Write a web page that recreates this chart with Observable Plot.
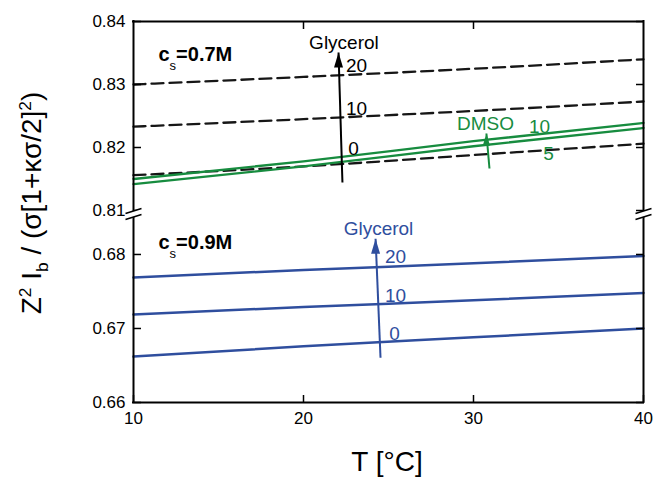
<!DOCTYPE html>
<html>
<head>
<meta charset="utf-8">
<script src="https://cdn.jsdelivr.net/npm/d3@7"></script>
<script src="https://cdn.jsdelivr.net/npm/@observablehq/plot@0.6"></script>
<style>
  body { margin: 0; background: #fff; }
  #chart { position: relative; width: 655px; height: 477px; overflow: hidden;
           font-family: "Liberation Sans", Arial, Helvetica, sans-serif; color: #000; }
  #top, #bottom { position: absolute; left: 0; }
  #top { top: 0; }
  #bottom { top: 213px; }
  .title { position: absolute; white-space: nowrap; font-size: 28px; line-height: 1; }
  .ytitle { left: 32px; top: 203px; transform: translate(-50%, -50%) rotate(-90deg); }
  .xtitle { left: 387px; top: 462px; transform: translate(-50%, -50%); }
  .title sup, .title sub { font-size: 0.62em; line-height: 0; }
</style>
</head>
<body>
<div id="chart">
  <div id="top"></div>
  <div id="bottom"></div>
  <div class="title ytitle">Z<sup>2</sup> I<sub>b</sub> / (σ[1+κσ/2]<sup>2</sup>)</div>
  <div class="title xtitle">T [°C]</div>
</div>
<script>
// Temperature grid (°C)
const temperature = [10, 20, 30, 40];

// c_s = 0.7 M, glycerol 0 / 10 / 20 (dashed)
const glyc07_0  = [0.8156, 0.8170, 0.8188, 0.8206];
const glyc07_10 = [0.8233, 0.8245, 0.8258, 0.8273];
const glyc07_20 = [0.8300, 0.8312, 0.8325, 0.8340];

// c_s = 0.7 M, DMSO 5 / 10 (solid green)
const dmso07_5  = [0.8142, 0.8170, 0.8202, 0.8231];
const dmso07_10 = [0.8150, 0.8178, 0.8210, 0.8239];

// c_s = 0.9 M, glycerol 0 / 10 / 20 (solid blue)
const glyc09_0  = [0.6662, 0.6676, 0.6688, 0.6700];
const glyc09_10 = [0.6719, 0.6729, 0.6738, 0.6748];
const glyc09_20 = [0.6769, 0.6779, 0.6788, 0.6798];

// Axis ticks
const xTicks = [10, 20, 30, 40];
const yTicksUpper = [0.81, 0.82, 0.83, 0.84];
const yTicksLower = [0.66, 0.67, 0.68];
const yDomainUpper = [0.81, 0.84];
const yDomainLower = [0.66, 0.6854];

// Annotations
const upperLabels = [
  {T: 22.38, v: 0.83667, label: "Glycerol"},
  {T: 23.12, v: 0.83302, label: "20"},
  {T: 23.12, v: 0.82619, label: "10"},
  {T: 22.94, v: 0.81984, label: "0"}
];
const dmsoLabels = [
  {T: 30.71, v: 0.82373, label: "DMSO"},
  {T: 33.88, v: 0.82333, label: "10"},
  {T: 34.41, v: 0.81897, label: "5"}
];
const lowerLabels = [
  {T: 24.41, v: 0.68347, label: "Glycerol"},
  {T: 25.41, v: 0.67969, label: "20"},
  {T: 25.41, v: 0.67442, label: "10"},
  {T: 25.35, v: 0.66922, label: "0"}
];
const saltLabels07 = [{T: 11.47, v: 0.83476, pre: "c", sub: "s", post: "=0.7M"}];
const saltLabels09 = [{T: 11.47, v: 0.68155, pre: "c", sub: "s", post: "=0.9M"}];

// Arrows (tail → tip)
const arrowGlyc07 = [{x1: 22.29, y1: 0.81444, x2: 22.06, y2: 0.83508}];
const arrowDmso07 = [{x1: 30.94, y1: 0.81667, x2: 30.76, y2: 0.82222}];
const arrowGlyc09 = [{x1: 24.53, y1: 0.66604, x2: 24.24, y2: 0.68212}];

const BLACK = "#161616", GREEN = "#178c3f", BLUE = "#2f4e9e";
const FONT = '"Liberation Sans", Arial, Helvetica, sans-serif';

const toRows = (series) => series.flatMap(([name, values]) =>
  values.map((v, i) => ({series: name, T: temperature[i], v})));

const rowsGlyc07 = toRows([["g0", glyc07_0], ["g10", glyc07_10], ["g20", glyc07_20]]);
const rowsDmso07 = toRows([["d5", dmso07_5], ["d10", dmso07_10]]);
const rowsGlyc09 = toRows([["g0", glyc09_0], ["g10", glyc09_10], ["g20", glyc09_20]]);

// Narrow filled arrowhead, tip at the anchor point
const arrowHead = {
  draw(context, size) {
    const r = Math.sqrt(size / Math.PI);
    context.moveTo(0, 0);
    context.lineTo(0.9 * r, 3 * r);
    context.lineTo(-0.9 * r, 3 * r);
    context.closePath();
  }
};
// Axis-break glyph: white gap and two slanted strokes
const breakGap = {
  draw(context) {
    context.moveTo(-8, -1); context.lineTo(8, -6); context.lineTo(8, 0); context.lineTo(-8, 5); context.closePath();
  }
};
const breakStrokes = {
  draw(context) {
    context.moveTo(-8, -1); context.lineTo(8, -6);
    context.moveTo(-8, 5); context.lineTo(8, 0);
  }
};

const style = {fontFamily: FONT, fontSize: "17px", overflow: "visible", color: "#000", background: "transparent"};
const frameRule = {stroke: "#000", strokeWidth: 2, strokeLinecap: "square"};
const fmt2 = d3.format(".2f");
const blank = () => "";

function saltText(data) {
  return Plot.text(data, {x: "T", y: "v", text: d => d.pre + d.sub + d.post,
    textAnchor: "start", fontSize: 20, fontWeight: "bold", fill: "#000"});
}
function subscriptify(svg, labels) {
  d3.select(svg).selectAll("text").each(function () {
    const m = labels.find(d => d.pre + d.sub + d.post === this.textContent);
    if (!m) return;
    const t = d3.select(this);
    t.text(null);
    t.append("tspan").text(m.pre);
    t.append("tspan").attr("font-size", 13).attr("font-weight", "normal").attr("dy", 9).text(m.sub);
    t.append("tspan").attr("dy", -9).text(m.post);
  });
}

const upper = Plot.plot({
  width: 655, height: 213,
  marginLeft: 133, marginRight: 12, marginTop: 21, marginBottom: 3,
  x: {domain: [10, 40], label: null},
  y: {domain: yDomainUpper, label: null},
  style,
  marks: [
    Plot.line(rowsGlyc07, {x: "T", y: "v", z: "series", stroke: BLACK, strokeWidth: 2.3,
      strokeDasharray: "12,6", curve: "monotone-x"}),
    Plot.line(rowsDmso07, {x: "T", y: "v", z: "series", stroke: GREEN, strokeWidth: 2.3, curve: "monotone-x"}),
    Plot.ruleX([10, 40], frameRule),
    Plot.ruleY([yDomainUpper[1]], frameRule),
    Plot.axisY(yTicksUpper, {anchor: "left", tickSize: -8, tickPadding: 16, tickFormat: fmt2, strokeWidth: 1.5, fontSize: 17}),
    Plot.axisY(yTicksUpper, {anchor: "right", tickSize: -8, tickFormat: blank, strokeWidth: 1.5}),
    Plot.axisX([20, 30], {anchor: "top", tickSize: -7, tickFormat: blank, strokeWidth: 1.5}),
    Plot.text(upperLabels, {x: "T", y: "v", text: "label", fill: "#000", fontSize: 19}),
    Plot.text(dmsoLabels, {x: "T", y: "v", text: "label", fill: GREEN, fontSize: 19}),
    saltText(saltLabels07),
    Plot.link(arrowGlyc07, {x1: "x1", y1: "y1", x2: "x2", y2: "y2", stroke: "#000", strokeWidth: 2}),
    Plot.dot(arrowGlyc07, {x: "x2", y: "y2", r: 5, symbol: arrowHead, fill: "#000", stroke: "none"}),
    Plot.link(arrowDmso07, {x1: "x1", y1: "y1", x2: "x2", y2: "y2", stroke: GREEN, strokeWidth: 2}),
    Plot.dot(arrowDmso07, {x: "x2", y: "y2", r: 4, symbol: arrowHead, fill: GREEN, stroke: "none"})
  ]
});
subscriptify(upper, saltLabels07);
document.getElementById("top").append(upper);

const lower = Plot.plot({
  width: 655, height: 264,
  marginLeft: 133, marginRight: 12, marginTop: 1, marginBottom: 75,
  x: {domain: [10, 40], label: null},
  y: {domain: yDomainLower, label: null},
  style,
  marks: [
    Plot.line(rowsGlyc09, {x: "T", y: "v", z: "series", stroke: BLUE, strokeWidth: 2.5, curve: "monotone-x"}),
    Plot.ruleX([10, 40], frameRule),
    Plot.ruleY([yDomainLower[0]], frameRule),
    Plot.axisY(yTicksLower, {anchor: "left", tickSize: -8, tickPadding: 16, tickFormat: fmt2, strokeWidth: 1.5, fontSize: 17}),
    Plot.axisY(yTicksLower, {anchor: "right", tickSize: -8, tickFormat: blank, strokeWidth: 1.5}),
    Plot.axisX(xTicks, {anchor: "bottom", tickSize: -7, tickPadding: 16, tickFormat: d3.format("d"), strokeWidth: 1.5, fontSize: 17}),
    Plot.text(lowerLabels, {x: "T", y: "v", text: "label", fill: BLUE, fontSize: 19}),
    saltText(saltLabels09),
    Plot.link(arrowGlyc09, {x1: "x1", y1: "y1", x2: "x2", y2: "y2", stroke: BLUE, strokeWidth: 2}),
    Plot.dot(arrowGlyc09, {x: "x2", y: "y2", r: 5, symbol: arrowHead, fill: BLUE, stroke: "none"}),
    // axis breaks at the top edge of the lower panel
    Plot.dot([10, 40], {x: d => d, y: yDomainLower[1], r: 4, symbol: breakGap, fill: "#fff", stroke: "none"}),
    Plot.dot([10, 40], {x: d => d, y: yDomainLower[1], r: 4, symbol: breakStrokes, fill: "none", stroke: "#000", strokeWidth: 1.5})
  ]
});
subscriptify(lower, saltLabels09);
document.getElementById("bottom").append(lower);
</script>
</body>
</html>
